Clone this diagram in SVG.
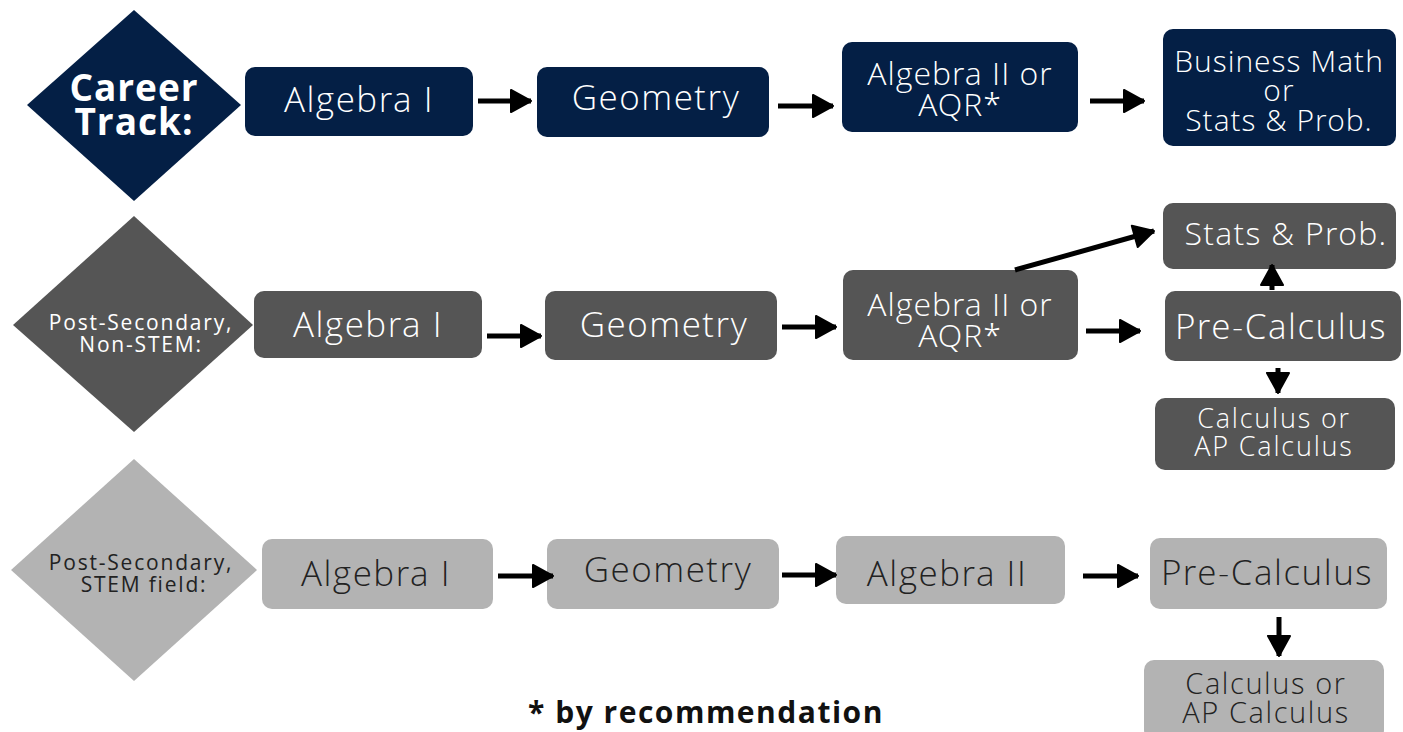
<svg xmlns="http://www.w3.org/2000/svg" width="1403" height="732" viewBox="0 0 1403 732">
<defs>
<marker id="ah" markerUnits="userSpaceOnUse" markerWidth="24" markerHeight="26" refX="22" refY="13" orient="auto">
<path d="M2,2 L22,13 L2,24 Z" fill="#000" stroke="#000" stroke-width="2" stroke-linejoin="round"/>
</marker>
<style>
text{font-family:"Open Sans Light","Open Sans","Noto Sans",sans-serif;text-anchor:middle;font-weight:300}
.b{font-family:"Open Sans","Noto Sans",sans-serif;font-weight:700}
.t{font-size:35px;letter-spacing:1.5px}
.m{font-size:32px;letter-spacing:1px}
.s{font-family:"Open Sans","Noto Sans",sans-serif;font-weight:400;font-size:21px;letter-spacing:1.8px}
.n{fill:#041f45}
.d{fill:#555555}
.l{fill:#b3b3b3}
.w{fill:#ffffff}
.k{fill:#222222}
.c{stroke:#000;stroke-width:5;fill:none;marker-end:url(#ah)}
</style>
</defs>
<rect width="1403" height="732" fill="#fff"/>
<g id="row1">
<g id="career"><polygon class="n" points="134,10 241,105 134,201 27,105"/><text class="b w" font-size="37" letter-spacing="1"><tspan x="134" y="101">Career</tspan><tspan x="134" y="135">Track:</tspan></text></g>
<g id="r1-alg1"><rect class="n" x="245" y="67" width="228" height="69" rx="10"/><text class="t w" x="359" y="112">Algebra I</text></g>
<g id="r1-geo"><rect class="n" x="537" y="67" width="232" height="70" rx="10"/><text class="t w" x="656" y="110">Geometry</text></g>
<g id="r1-alg2"><rect class="n" x="842" y="42" width="236" height="90" rx="10"/><text class="m w"><tspan x="960" y="85">Algebra II or</tspan><tspan x="960" y="116">AQR*</tspan></text></g>
<g id="r1-bus"><rect class="n" x="1163" y="29" width="233" height="117" rx="10"/><text class="w" font-size="30" letter-spacing="1"><tspan x="1279" y="72">Business Math</tspan><tspan x="1279" y="101">or</tspan><tspan x="1279" y="131">Stats &amp; Prob.</tspan></text></g>
</g>
<g id="row2">
<g id="nonstem"><polygon class="d" points="134,216 253,325 134,432 13,325"/><text class="s w"><tspan x="141" y="330">Post-Secondary,</tspan><tspan x="141" y="352">Non-STEM:</tspan></text></g>
<g id="r2-alg1"><rect class="d" x="254" y="291" width="228" height="67" rx="10"/><text class="t w" x="368" y="337">Algebra I</text></g>
<g id="r2-geo"><rect class="d" x="545" y="291" width="232" height="69" rx="10"/><text class="t w" x="664" y="337">Geometry</text></g>
<g id="r2-alg2"><rect class="d" x="843" y="270" width="235" height="90" rx="10"/><text class="m w"><tspan x="960" y="316">Algebra II or</tspan><tspan x="960" y="347">AQR*</tspan></text></g>
<g id="r2-stats"><rect class="d" x="1163" y="203" width="233" height="66" rx="10"/><text class="w" font-size="32" letter-spacing="1.3" x="1286" y="245">Stats &amp; Prob.</text></g>
<g id="r2-pre"><rect class="d" x="1165" y="291" width="236" height="70" rx="10"/><text class="t w" x="1281" y="339">Pre-Calculus</text></g>
<g id="r2-calc"><rect class="d" x="1155" y="398" width="240" height="72" rx="10"/><text class="w" font-size="27" letter-spacing="1.8"><tspan x="1274" y="428">Calculus or</tspan><tspan x="1274" y="456">AP Calculus</tspan></text></g>
</g>
<g id="row3">
<g id="stem"><polygon class="l" points="134,459 257,570 134,681 11,570"/><text class="s k"><tspan x="141" y="570">Post-Secondary,</tspan><tspan x="144" y="592">STEM field:</tspan></text></g>
<g id="r3-alg1"><rect class="l" x="262" y="539" width="231" height="70" rx="10"/><text class="t k" x="376" y="586">Algebra I</text></g>
<g id="r3-geo"><rect class="l" x="547" y="539" width="232" height="70" rx="10"/><text class="t k" x="668" y="582">Geometry</text></g>
<g id="r3-alg2"><rect class="l" x="836" y="536" width="229" height="68" rx="10"/><text class="t k" x="947" y="586">Algebra II</text></g>
<g id="r3-pre"><rect class="l" x="1150" y="538" width="237" height="71" rx="10"/><text class="t k" x="1267" y="585">Pre-Calculus</text></g>
<g id="r3-calc"><rect class="l" x="1144" y="660" width="240" height="80" rx="10"/><text class="k" font-size="29" letter-spacing="1.6"><tspan x="1266" y="694">Calculus or</tspan><tspan x="1266" y="723">AP Calculus</tspan></text></g>
</g>
<g id="connectors">
<line class="c" x1="478" y1="101" x2="531" y2="101"/>
<line class="c" x1="778" y1="106" x2="833" y2="106"/>
<line class="c" x1="1090" y1="101" x2="1144" y2="101"/>
<line class="c" x1="487" y1="336" x2="541" y2="336"/>
<line class="c" x1="782" y1="327" x2="836" y2="327"/>
<line class="c" x1="1086" y1="331" x2="1140" y2="331"/>
<line class="c" x1="1015" y1="270" x2="1154" y2="231"/>
<line class="c" x1="1272" y1="290" x2="1272" y2="265"/>
<line class="c" x1="1278" y1="368" x2="1278" y2="393"/>
<line class="c" x1="498" y1="576" x2="553" y2="576"/>
<line class="c" x1="782" y1="575" x2="836" y2="575"/>
<line class="c" x1="1083" y1="576" x2="1138" y2="576"/>
<line class="c" x1="1279" y1="617" x2="1279" y2="656"/>
</g>
<text id="note" class="b" x="706" y="723" font-size="30" letter-spacing="1.5" fill="#111">* by recommendation</text>
</svg>
